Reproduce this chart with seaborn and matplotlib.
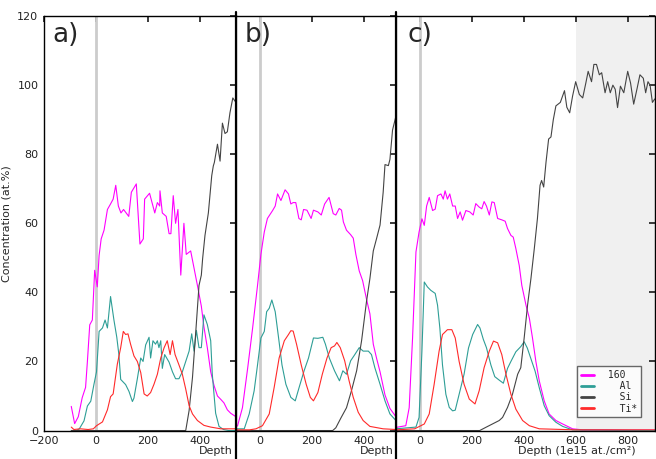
import matplotlib
matplotlib.use('Agg')
import matplotlib.pyplot as plt
import seaborn as sns
import pandas as pd

# Depth profiles (depth in 1e15 at./cm2, conc. in at.%)
# panel a)
a_o_d = [-95, -82, -68, -53, -40, -33, -24, -14, -5, 5, 12, 20, 31, 44, 56, 66, 76, 86, 96, 106, 116, 126, 136,
         155, 169, 182, 187, 206, 226, 236, 245, 246, 255, 270, 281, 288, 297, 306, 315, 326, 338, 347, 364, 377,
         390, 405, 415, 428, 441, 454, 467, 480, 492, 505, 518, 528, 538]
a_o_v = [7, 2, 4, 9.5, 12.5, 20, 30.6, 32, 46.4, 41.6, 50.7, 55.5, 58, 64, 65.6, 67, 71, 65, 63, 64, 63, 62, 69,
         71.4, 54, 55.5, 67, 68.7, 63, 66, 65, 69.4, 63, 62, 57, 57, 68, 60, 64, 45, 60, 51, 52, 47,
         42, 36, 30, 24, 17, 13, 10, 9, 8, 6, 5, 4.5, 4]
a_al_d = [-95, -75, -64, -46, -33, -20, -8, 2, 12, 25, 35, 44, 56, 69, 80, 88, 95, 114, 127, 140, 146, 159, 172,
          181, 191, 204, 210, 219, 229, 236, 242, 249, 255, 264, 281, 294, 306, 319, 332, 345, 358, 368, 377, 386,
          396, 405, 415, 428, 441, 447, 460, 473, 490, 510, 538]
a_al_v = [0, 0, 0.5, 2.8, 7.1, 8.5, 13.3, 17, 28.7, 29.7, 32, 29.7, 38.8, 32, 27, 22, 14.8, 13.3, 11.3, 8.4, 9.4, 15, 21,
          20, 24.8, 27, 21, 26, 25, 26, 24, 26, 18, 22, 19.8, 17, 15, 15, 17, 20, 23, 28, 23, 29,
          24, 24, 33.5, 30.7, 26, 16.4, 5, 1.2, 0.3, 0, 0]
a_si_d = [-95, 300, 345, 358, 371, 384, 396, 405, 410, 419, 432, 445, 451, 455, 467, 477, 486, 496, 505, 515, 526, 535]
a_si_v = [0, 0, 0, 5.8, 15.4, 29, 42, 45, 49.8, 56.5, 63, 73.8, 76.6, 77.6, 82.9, 78, 89, 86, 86.5, 92, 96.3, 95.3]
a_ti_d = [-95, -85, -60, -30, -10, 2, 25, 44, 56, 66, 82, 95, 105, 114, 123, 133, 146, 159, 172, 185, 197, 210,
          223, 236, 249, 262, 274, 285, 294, 304, 319, 332, 345, 358, 371, 390, 415, 441, 480, 538]
a_ti_v = [1, 0.3, 0.5, 0.3, 0.5, 1.4, 2.5, 6, 9.8, 10.6, 19.2, 24, 28.7, 27.8, 28, 25, 21.6, 20, 16.8, 10.6, 10, 11,
          13.4, 16.3, 21, 24, 26, 22, 26, 22, 19, 16.3, 12, 7.2, 4.8, 2.9, 1.5, 1, 0.5, 0.5]

# panel b)
b_o_d = [-86, -67, -47, -28, -9, 4, 17, 29, 49, 59, 68, 81, 97, 110, 119, 128, 138, 150, 159, 168, 181, 197, 206,
         223, 236, 249, 266, 282, 292, 305, 314, 321, 333, 349, 359, 369, 382, 395, 410, 423, 436, 449, 462, 481,
         500, 523]
b_o_v = [1.3, 6.6, 18, 29.6, 42, 51, 57.5, 61.4, 63.7, 65, 68.5, 66.6, 69.7, 68.5, 65.6, 66, 66, 61.4, 61, 64, 63.8,
         61.4, 63.8, 63.3, 62.4, 65.6, 67.5, 62.8, 62.4, 64.3, 63.8, 60.4, 58, 56.7, 55.7, 51, 46.2, 43.4, 38, 33.8,
         25, 20.8, 17, 10.3, 6.4, 4]
b_al_d = [-92, -60, -41, -22, -9, 4, 17, 26, 36, 46, 59, 72, 85, 100, 119, 136, 151, 170, 187, 206, 223, 242, 252,
          267, 287, 306, 319, 333, 349, 365, 382, 397, 417, 429, 442, 462, 481, 500, 523]
b_al_v = [0.5, 0.5, 4.8, 11.5, 19, 26.8, 28.7, 34.4, 35.4, 37.8, 34.4, 26.8, 19, 13.4, 9.6, 8.6, 12.5, 17.3, 21, 26.8,
          26.7, 27, 25, 21, 17.3, 14.4, 17.3, 16.3, 20.2, 22, 24, 23, 23, 22, 18.2, 13.4, 8.6, 4.8, 2.9]
b_si_d = [-92, 200, 280, 292, 312, 333, 352, 372, 391, 410, 423, 436, 449, 462, 474, 481, 494, 500, 510, 523]
b_si_v = [0, 0, 0, 0.8, 3.7, 6.6, 11.5, 17.3, 26, 37.4, 44, 52, 55.7, 59.5, 69, 77, 76.7, 78.5, 87, 91]
b_ti_d = [-92, -40, -15, 10, 36, 55, 74, 94, 110, 119, 128, 141, 159, 178, 194, 206, 223, 240, 258, 274, 287, 296,
          309, 326, 343, 359, 378, 397, 423, 474, 523]
b_ti_v = [0.2, 0.2, 0.5, 1.4, 4.8, 12.5, 21, 26, 27.8, 28.9, 28.8, 25, 19, 13.4, 9.6, 8.6, 11, 16.3, 21, 24, 24.5, 25.5,
          24, 20.2, 14.4, 9.6, 5.3, 2.9, 1.2, 0.5, 0.3]

# panel c)
c_o_d = [-92, -54, -41, -28, -15, -3, 8, 17, 26, 36, 49, 59, 68, 81, 90, 97, 106, 115, 126, 136, 145, 155, 164, 177,
         192, 205, 215, 228, 238, 247, 256, 267, 277, 286, 299, 315, 328, 337, 350, 359, 369, 382, 392, 408, 421,
         433, 446, 459, 478, 497, 523, 549, 587, 626, 700, 800, 904]
c_o_v = [0.9, 1.4, 6.6, 26.8, 51.7, 57.5, 61.3, 59.4, 65, 67.5, 63.7, 64.1, 68, 68.5, 67, 69.4, 67, 68.5, 65, 65, 61.4,
         63.3, 60.9, 63.7, 63.3, 62.4, 65.7, 64.7, 64.2, 66.3, 65, 62.4, 66.2, 66, 61.4, 61, 60.6, 58.5, 56.5, 56,
         52.7, 47.8, 42, 36.3, 32.5, 26.8, 20, 14.4, 8.6, 4.8, 2.9, 1.9, 0.5, 0.2, 0.2, 0.1, 0.1]
c_al_d = [-92, -15, -3, 8, 17, 29, 42, 59, 68, 77, 87, 100, 113, 126, 136, 151, 170, 187, 203, 222, 231, 244, 256,
          273, 288, 305, 321, 337, 350, 369, 388, 401, 413, 426, 443, 459, 478, 497, 523, 549, 587, 904]
c_al_v = [0.5, 1, 3.8, 23, 43, 41.6, 40.6, 39.7, 36.3, 29.6, 19, 10.5, 6.7, 5.7, 5.9, 10.5, 16.3, 23.9, 27.8, 30.7,
          29.7, 26.4, 24, 19, 15.6, 14.6, 13.7, 18, 20, 22.8, 24.3, 25.7, 23.9, 21, 17.2, 12.4, 7.2, 4.3, 2.4, 1.2,
          0.2, 0]
c_si_d = [-92, 230, 253, 279, 305, 318, 337, 356, 376, 388, 401, 414, 427, 440, 452, 462, 468, 476, 485, 495, 504,
          513, 523, 540, 556, 565, 576, 587, 599, 613, 626, 638, 647, 660, 669, 679, 690, 699, 712, 722, 732, 742,
          751, 760, 771, 784, 799, 810, 822, 835, 846, 859, 868, 877, 885, 894, 903]
c_si_v = [0, 0, 0.9, 1.9, 2.9, 3.8, 6.7, 10.5, 16.3, 18.2, 26.8, 36.3, 44, 52.7, 61.4, 71, 72.4, 70.5, 77.7, 84.4, 85,
          90, 94, 95, 98.4, 93.6, 92, 96.8, 101, 97.3, 96.3, 100.6, 104, 101, 106, 106, 103, 103.6, 97.8, 101, 97.8,
          100, 98.8, 93.5, 99.7, 97.8, 104, 100.6, 94.5, 99, 103, 102, 97.8, 101, 100, 95, 96]
c_ti_d = [-92, -20, 17, 36, 55, 74, 87, 106, 123, 136, 151, 170, 190, 212, 228, 247, 267, 283, 299, 315, 331, 350,
          369, 395, 421, 459, 600, 904]
c_ti_v = [0.2, 0.5, 1.9, 4.8, 13.4, 23, 27.8, 29.2, 29.2, 26.8, 20, 13.4, 9.1, 7.7, 11.5, 18.2, 23, 25.9, 25.4, 22,
          16.3, 10.5, 6.2, 2.9, 1.4, 0.5, 0.2, 0.2]

labels = [' 160', '   Al', '   Si', '   Ti*']
colors = ['#ff00ff', '#2e9e96', '#444444', '#ff2a2a']
panels = ['a)', 'b)', 'c)']
xlims = [(-200, 538), (-92, 523), (-92, 904)]

series = [
    [(a_o_d, a_o_v), (a_al_d, a_al_v), (a_si_d, a_si_v), (a_ti_d, a_ti_v)],
    [(b_o_d, b_o_v), (b_al_d, b_al_v), (b_si_d, b_si_v), (b_ti_d, b_ti_v)],
    [(c_o_d, c_o_v), (c_al_d, c_al_v), (c_si_d, c_si_v), (c_ti_d, c_ti_v)],
]

sns.set_theme(style='white')
plt.rcParams.update({
    'xtick.direction': 'in', 'ytick.direction': 'in',
    'xtick.top': True, 'ytick.right': True,
    'xtick.major.size': 4, 'ytick.major.size': 4,
    'xtick.labelsize': 8, 'ytick.labelsize': 8,
    'axes.edgecolor': 'black', 'axes.linewidth': 1.0,
    'xtick.color': '#222222', 'ytick.color': '#222222',
})
plt.rcParams['font.family'] = ['DejaVu Sans']

fig, axes = plt.subplots(1, 3, sharey=True, figsize=(6.56, 4.59), dpi=100,
                         gridspec_kw={'width_ratios': [738, 615, 996], 'wspace': 0})
fig.subplots_adjust(left=0.067, right=0.9985, bottom=0.062, top=0.965)

for i, ax in enumerate(axes):
    if i == 2:
        ax.axvspan(600, 904, color='#f0f0f0', lw=0, zorder=0)
    ax.axvline(0, color='#cccccc', lw=2, zorder=1)
    for (d, v), lab, col in zip(series[i], labels, colors):
        df = pd.DataFrame({'depth': d, 'conc': v})
        sns.lineplot(data=df, x='depth', y='conc', ax=ax, color=col, lw=0.8,
                     label=lab, legend=False, sort=False, zorder=2)
    ax.set_xlim(*xlims[i])
    ax.set_ylim(0, 120)
    ax.set_xticks([t for t in range(-200, 1000, 200) if xlims[i][0] <= t <= xlims[i][1]])
    ax.text(0.045 if i != 1 else 0.056, 0.985, panels[i], transform=ax.transAxes,
            fontsize=19, va='top', ha='left')
    ax.set_ylabel('')
    ax.tick_params(axis='x', pad=4)
    ax.tick_params(axis='y', pad=4)
    if i < 2:
        ax.set_xlabel('Depth', fontsize=8, ha='right')
        ax.xaxis.set_label_coords(0.985, -0.038)
        ax.axvline(xlims[i][1], ymin=-0.08, ymax=1.01, color='black', lw=1.6,
                   clip_on=False, zorder=5)
    else:
        ax.set_xlabel('Depth (1e15 at./cm²)', fontsize=8)
        ax.xaxis.set_label_coords(0.70, -0.038)
    if i > 0:
        ax.tick_params(axis='y', labelleft=False)

axes[0].set_ylabel('Concentration (at.%)', fontsize=8)
axes[0].set_yticks(range(0, 121, 20))

leg = axes[2].legend(loc='lower right', bbox_to_anchor=(0.965, 0.02),
                     prop={'family': 'DejaVu Sans Mono', 'size': 7},
                     handlelength=1.4, frameon=True, fancybox=False,
                     borderpad=0.4, labelspacing=0.12)
leg.get_frame().set_edgecolor('#444444')
for h in leg.get_lines():
    h.set_linewidth(2)

fig.savefig('out.png', dpi=100)
